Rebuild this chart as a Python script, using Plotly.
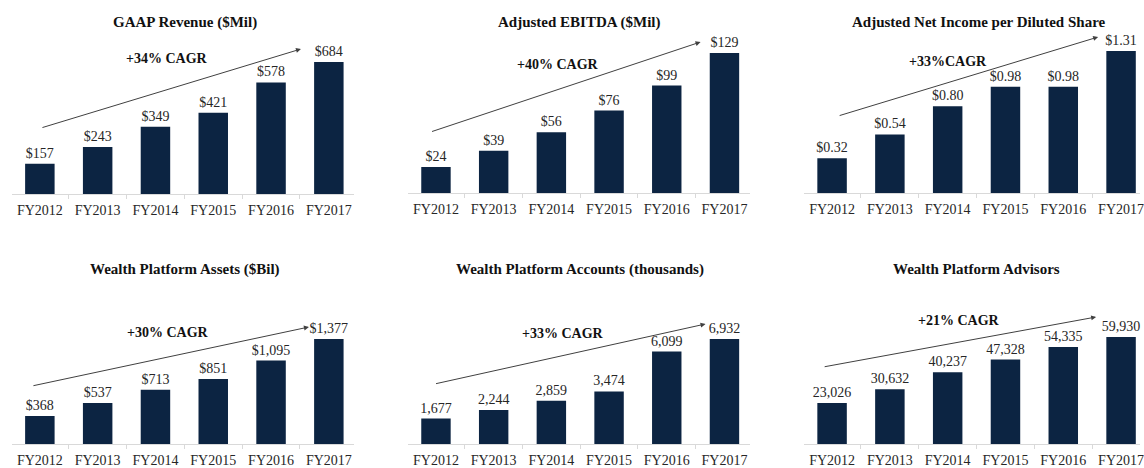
import plotly.graph_objects as go

W, H = 1144, 468

years = ["FY2012", "FY2013", "FY2014", "FY2015", "FY2016", "FY2017"]
revenue = [157, 243, 349, 421, 578, 684]
ebitda = [24, 39, 56, 76, 99, 129]
eps = [0.32, 0.54, 0.80, 0.98, 0.98, 1.31]
assets = [368, 537, 713, 851, 1095, 1377]
accounts = [1677, 2244, 2859, 3474, 6099, 6932]
advisors = [23026, 30632, 40237, 47328, 54335, 59930]

titles = ["GAAP Revenue ($Mil)", "Adjusted EBITDA ($Mil)", "Adjusted Net Income per Diluted Share",
          "Wealth Platform Assets ($Bil)", "Wealth Platform Accounts (thousands)", "Wealth Platform Advisors"]
cagr = ["+34% CAGR", "+40% CAGR", "+33%CAGR", "+30% CAGR", "+33% CAGR", "+21% CAGR"]
series = [revenue, ebitda, eps, assets, accounts, advisors]
templates = ["$%{y}", "$%{y}", "$%{y:.2f}", "$%{y:,}", "%{y:,}", "%{y:,}"]

BAR = "#0c2442"
TXT = "#262626"
FONT = "Liberation Serif, Tinos, DejaVu Serif, serif"


def px(x):
    return x / W


def py(y):
    return 1 - y / H


# layout geometry (reference pixels): first bar centre, spacing, baseline, top of tallest bar, plot top
geo = [
    dict(c0=40, sp=58, B=194, tm=62, T=30),
    dict(c0=437.5, sp=57.9, B=193, tm=53, T=30),
    dict(c0=835, sp=58, B=193, tm=51, T=30),
    dict(c0=40, sp=58, B=444, tm=339, T=285),
    dict(c0=437.5, sp=57.9, B=444, tm=339, T=285),
    dict(c0=835, sp=58, B=444, tm=337, T=285),
]
title_pos = [(186, 22), (582, 22), (982, 22), (186, 269), (582, 269), (980, 269)]
cagr_pos = [(168, 58), (560, 65), (951, 62), (169, 332), (565, 333), (962, 320)]
arrows = [((42, 128), (302, 49)), ((433, 132), (703, 42)), ((842, 116), (1102, 37)),
          ((33, 386), (310, 327)), ((437, 384), (708, 324)), ((827, 367), (1100, 317))]

fig = go.Figure()
layout = dict(width=W, height=H, margin=dict(l=0, r=0, t=0, b=0),
              paper_bgcolor="white", plot_bgcolor="white", showlegend=False,
              bargap=0.49, font=dict(family=FONT, color=TXT))
annotations = []

for i, (vals, g) in enumerate(zip(series, geo)):
    n = "" if i == 0 else str(i + 1)
    fig.add_trace(go.Bar(x=years, y=vals, marker=dict(color=BAR, line=dict(width=0)),
                         texttemplate=templates[i], textposition="outside", constraintext="none",
                         textfont=dict(size=14, color=TXT, family=FONT),
                         cliponaxis=False, xaxis="x" + n, yaxis="y" + n, hoverinfo="skip"))
    left = g["c0"] - 0.49 * g["sp"]
    right = min(g["c0"] + 5.44 * g["sp"], W)
    rmax = (right - g["c0"]) / g["sp"]
    layout["xaxis" + n] = dict(domain=[px(left), px(right)], type="category", range=[-0.49, rmax],
                               anchor="y" + n, showline=True, linecolor="#d9d9d9", linewidth=1,
                               ticks="outside", tickson="boundaries", ticklen=4, tickcolor="#d9d9d9",
                               ticklabelstandoff=3,
                               showgrid=False, zeroline=False, fixedrange=True,
                               tickfont=dict(size=14, color=TXT, family=FONT))
    ymax = max(vals) * (g["B"] - g["T"]) / (g["B"] - g["tm"])
    layout["yaxis" + n] = dict(domain=[py(g["B"]), py(g["T"])], range=[0, ymax],
                               anchor="x" + n, visible=False, fixedrange=True)
    tx, ty = title_pos[i]
    annotations.append(dict(text="<b>" + titles[i] + "</b>", x=px(tx), y=py(ty), xref="paper",
                            yref="paper", showarrow=False, xanchor="center", yanchor="middle",
                            font=dict(size=15, color="#111111", family=FONT)))
    cx, cy = cagr_pos[i]
    annotations.append(dict(text="<b>" + cagr[i] + "</b>", x=px(cx), y=py(cy), xref="paper",
                            yref="paper", showarrow=False, xanchor="center", yanchor="middle",
                            font=dict(size=14, color="#111111", family=FONT)))
    (t0, t1), (h0, h1) = arrows[i]
    annotations.append(dict(text="", x=px(h0), y=py(h1), xref="paper", yref="paper",
                            ax=t0 - h0, ay=t1 - h1, showarrow=True, arrowhead=2, arrowsize=1,
                            arrowwidth=1, arrowcolor="#404040", standoff=0))

layout["annotations"] = annotations
fig.update_layout(**layout)
fig.write_html("out.html", config={"displayModeBar": False, "staticPlot": True},
               post_script="document.body.style.margin='0px';document.body.style.overflow='hidden';")
